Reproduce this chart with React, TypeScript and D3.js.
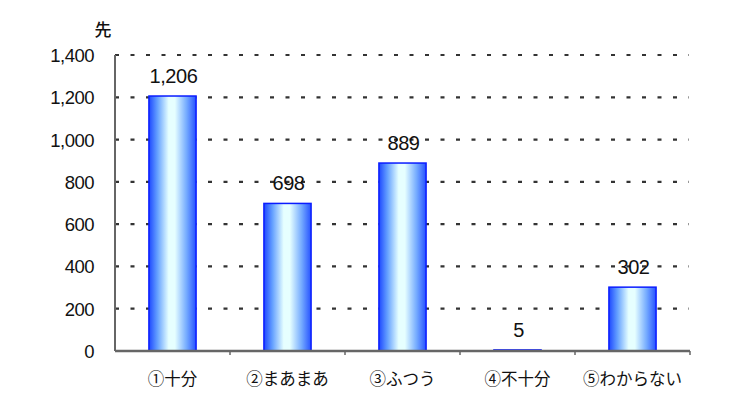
import React from 'react';
import * as d3 from 'd3';

const categories = ['①十分', '②まあまあ', '③ふつう', '④不十分', '⑤わからない'];
const counts = [1206, 698, 889, 5, 302];
const yTicks = [0, 200, 400, 600, 800, 1000, 1200, 1400];

const W = 747;
const H = 420;
const margin = { left: 115, right: 57, top: 55, bottom: 69 };

const App: React.FC = () => {
  const innerW = W - margin.left - margin.right;
  const innerH = H - margin.top - margin.bottom;

  const x = d3.scaleBand<string>()
    .domain(categories)
    .range([0, innerW])
    .paddingInner(0.59)
    .paddingOuter(0.295);

  const y = d3.scaleLinear().domain([0, 1400]).range([innerH, 0]);

  const fmt = d3.format(',');
  const textFont = '"Liberation Sans", Arial, sans-serif';
  const jpFont = '"Noto Sans CJK JP", sans-serif';

  // category slot edges for the x-axis ticks
  const step = innerW / categories.length;

  return (
    <svg width={W} height={H} style={{ position: 'absolute', left: 0, top: 0, background: '#fff' }}>
      <defs>
        <linearGradient id="barGrad" x1="0" x2="1" y1="0" y2="0">
          <stop offset="0%" stopColor="#1e48ff" />
          <stop offset="18%" stopColor="#64a0ff" />
          <stop offset="42%" stopColor="#e6ffff" />
          <stop offset="55%" stopColor="#e6ffff" />
          <stop offset="80%" stopColor="#74aaff" />
          <stop offset="100%" stopColor="#2652ff" />
        </linearGradient>
      </defs>

      <text x={103} y={36} textAnchor="middle" fontFamily={jpFont} fontSize={17} fontWeight={500} fill="#111">先</text>

      <g transform={`translate(${margin.left},${margin.top})`}>
        {yTicks.map(t => (
          <g key={t}>
            {t > 0 && (
              <line x1={0} x2={innerW - 1} y1={y(t)} y2={y(t)}
                stroke="#333" strokeWidth={2.2} strokeDasharray="4 11.5" />
            )}
            <text x={-21} y={y(t) + 7} textAnchor="end" fontFamily={textFont}
              fontSize={18.5} letterSpacing={-0.5} fill="#111">{fmt(t)}</text>
          </g>
        ))}

        {categories.map((c, i) => (
          <rect key={c} x={x(c)} y={y(counts[i])} width={x.bandwidth()}
            height={innerH - y(counts[i])} fill="url(#barGrad)" stroke="#0a1cff" strokeWidth={1.5} />
        ))}

        {/* axes */}
        <line x1={0} x2={0} y1={0} y2={innerH} stroke="#666" strokeWidth={2} />
        <line x1={0} x2={innerW} y1={innerH} y2={innerH} stroke="#666" strokeWidth={2.6} />
        {categories.map((_, i) => (
          <line key={i} x1={step * (i + 1)} x2={step * (i + 1)} y1={innerH} y2={innerH + 4}
            stroke="#666" strokeWidth={1.5} />
        ))}

        {categories.map((c, i) => (
          <text key={c} x={(x(c) ?? 0) + x.bandwidth() / 2 + 1} y={y(counts[i]) - 13}
            textAnchor="middle" fontFamily={textFont} fontSize={20} letterSpacing={-0.4} fill="#111">
            {fmt(counts[i])}
          </text>
        ))}

        {categories.map(c => (
          <text key={c} x={(x(c) ?? 0) + x.bandwidth() / 2} y={innerH + 34}
            textAnchor="middle" fontFamily={jpFont} fontSize={16.5} fill="#111">{c}</text>
        ))}
      </g>
    </svg>
  );
};

export default App;
